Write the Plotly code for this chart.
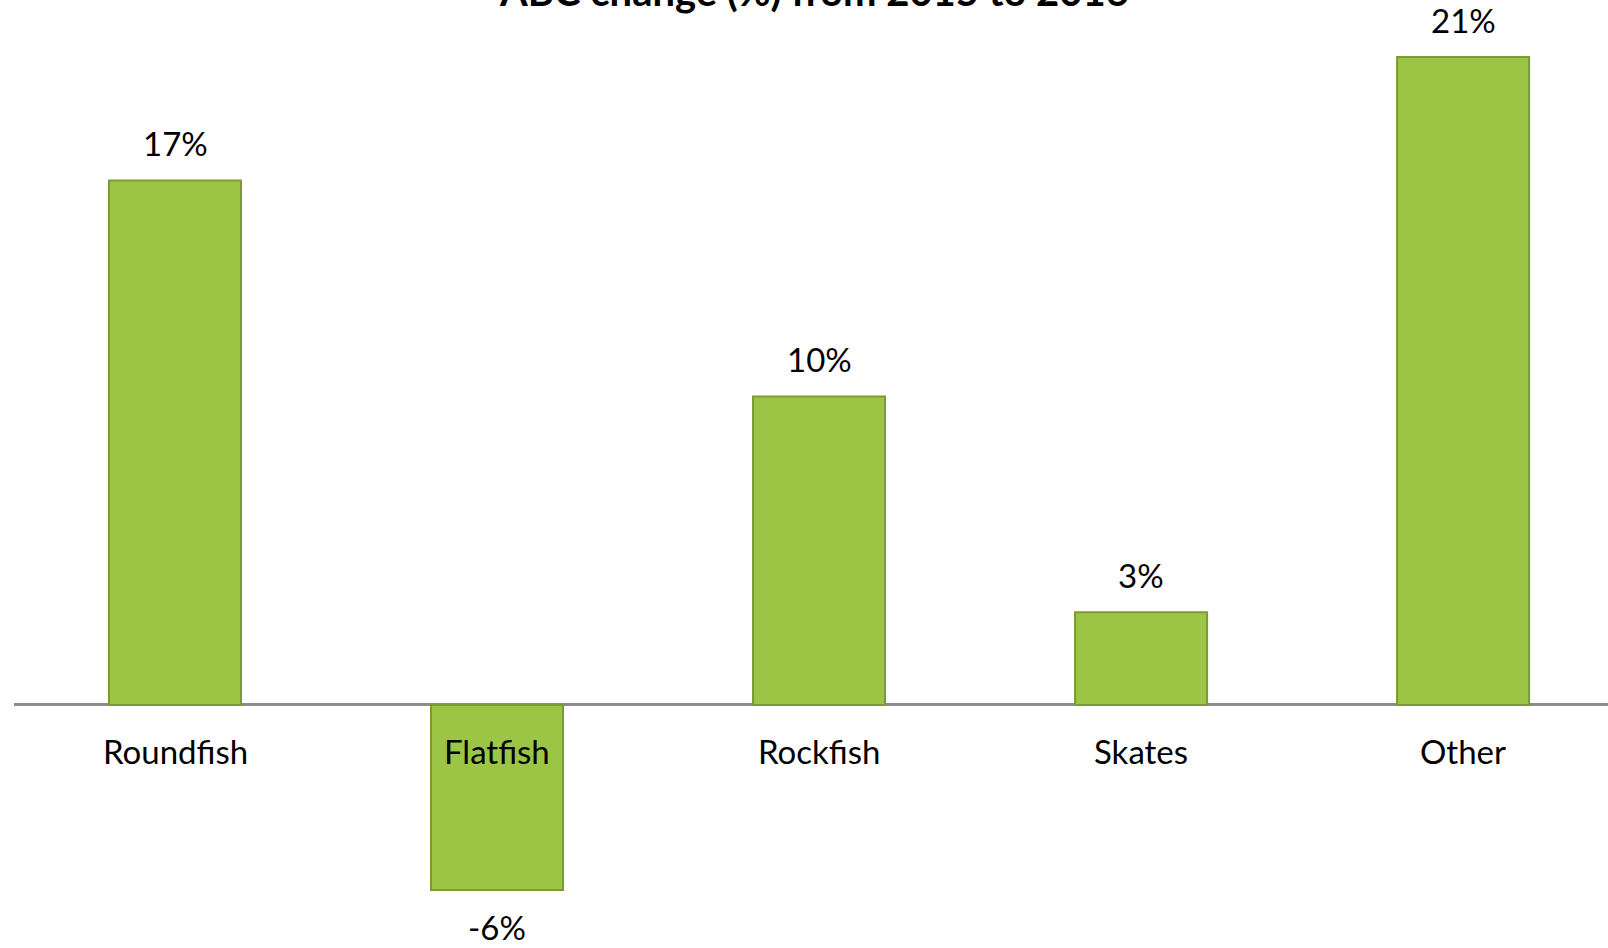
import plotly.graph_objects as go

categories = ["Roundfish", "Flatfish", "Rockfish", "Skates", "Other"]
abc_change_pct = [17, -6, 10, 3, 21]
value_labels = ["17%", "-6%", "10%", "3%", "21%"]
title_text = "ABC change (%) from 2015 to 2016"

FONT = "Lato, 'Open Sans', sans-serif"
BAR_FILL = "#9cc545"
BAR_EDGE = "#7a9a32"

fig = go.Figure()
fig.add_trace(go.Bar(
    x=categories,
    y=abc_change_pct,
    width=0.41,
    marker=dict(color=BAR_FILL, line=dict(color=BAR_EDGE, width=2)),
    hoverinfo="skip",
))

annotations = []
# value labels above positive bars, below negative ones
for cat, val, lab in zip(categories, abc_change_pct, value_labels):
    annotations.append(dict(
        x=cat, y=val, xref="x", yref="y", text=lab, showarrow=False,
        yanchor="middle", yshift=37 if val >= 0 else -37,
        font=dict(family=FONT, size=33, color="#000000"),
    ))
# category names sit just under the zero line
for cat in categories:
    annotations.append(dict(
        x=cat, y=0, xref="x", yref="y", text=cat, showarrow=False,
        yanchor="middle", yshift=-46,
        font=dict(family=FONT, size=33, color="#000000"),
    ))
# chart title, centred over the plot and running off the top edge
annotations.append(dict(
    x=(814 - 14) / (1608 - 14), xref="paper", y=1, yref="paper",
    text="<b>" + title_text + "</b>",
    showarrow=False, yanchor="bottom", yshift=-17,
    font=dict(family=FONT, size=40, color="#000000"),
))

fig.update_layout(
    width=1608, height=948,
    margin=dict(l=14, r=0, t=0, b=0),
    paper_bgcolor="white", plot_bgcolor="white",
    showlegend=False,
    annotations=annotations,
    xaxis=dict(range=[-0.5, 4.45], showticklabels=False, showgrid=False,
               zeroline=False, showline=False, ticks=""),
    yaxis=dict(range=[-7.88, 22.85], showticklabels=False, showgrid=False,
               zeroline=True, zerolinecolor="#8c8c8c", zerolinewidth=3,
               showline=False, ticks=""),
)

fig.write_html("out.html")
